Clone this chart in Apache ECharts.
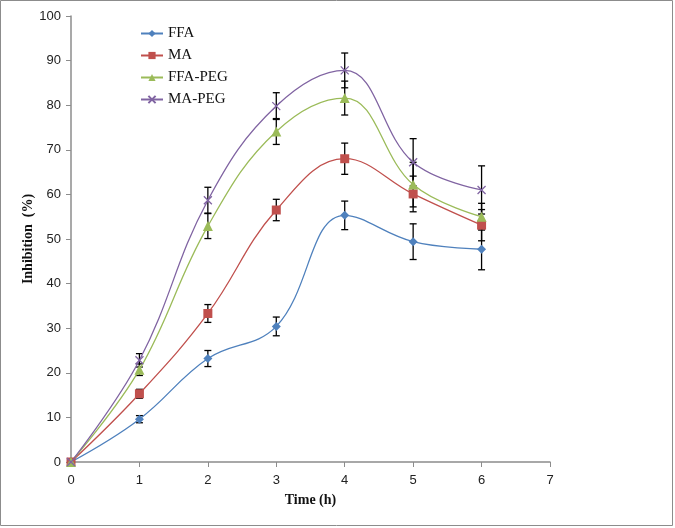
<!DOCTYPE html>
<html>
<head>
<meta charset="utf-8">
<script src="https://cdn.jsdelivr.net/npm/echarts@6/dist/echarts.min.js"></script>
<style>
html,body{margin:0;padding:0;background:#fff;}
#chart{width:675px;height:528px;}
</style>
</head>
<body>
<div id="chart"></div>
<script>
var timeH = [0, 1, 2, 3, 4, 5, 6];
var xTicks = [0, 1, 2, 3, 4, 5, 6, 7];
var seriesNames = ['FFA', 'MA', 'FFA-PEG', 'MA-PEG'];
var ffa = [0, 9.6, 23.2, 30.4, 55.3, 49.4, 47.7];
var ma = [0, 15.3, 33.3, 56.5, 68.0, 60.1, 53.1];
var ffaPeg = [0, 20.7, 52.9, 74.1, 81.6, 62.2, 55.0];
var maPeg = [0, 22.8, 58.7, 79.8, 87.8, 67.2, 61.0];
var ffaErr = [0, 0.8, 1.8, 2.1, 3.2, 4.0, 4.6];
var maErr = [0, 1.0, 2.0, 2.4, 3.5, 4.0, 3.5];
var ffaPegErr = [0, 1.3, 2.8, 2.9, 3.8, 5.0, 3.0];
var maPegErr = [0, 1.5, 2.9, 3.0, 3.9, 5.3, 5.4];

var colors = ['#4F81BD', '#C0504D', '#9BBB59', '#8064A2'];
var values = [ffa, ma, ffaPeg, maPeg];
var errs = [ffaErr, maErr, ffaPegErr, maPegErr];
var symbols = ['diamond', 'rect', 'triangle', 'path://M0,0L10,10M10,0L0,10'];
var symSizes = [9, 9, 10, 8];

var chart = echarts.init(document.getElementById('chart'));
var series = [];
values.forEach(function (vals, si) {
  var d = vals.map(function (v, i) { return [timeH[i], v - errs[si][i], v + errs[si][i]]; })
              .filter(function (p) { return p[2] - p[1] > 0; });
  series.push({
    type: 'custom',
    silent: true,
    z: 1,
    data: d,
    renderItem: function (params, api) {
      var x = api.value(0);
      var lo = api.coord([x, api.value(1)]);
      var hi = api.coord([x, api.value(2)]);
      var hw = 3.5;
      var st = { stroke: '#000', lineWidth: 1.3 };
      return {
        type: 'group',
        children: [
          { type: 'line', shape: { x1: lo[0], y1: lo[1], x2: hi[0], y2: hi[1] }, style: st },
          { type: 'line', shape: { x1: lo[0] - hw, y1: lo[1], x2: lo[0] + hw, y2: lo[1] }, style: st },
          { type: 'line', shape: { x1: hi[0] - hw, y1: hi[1], x2: hi[0] + hw, y2: hi[1] }, style: st }
        ]
      };
    }
  });
});
values.forEach(function (vals, si) {
  series.push({
    name: seriesNames[si],
    type: 'line',
    z: 3,
    smooth: 0.4,
    data: vals.map(function (v, i) { return [timeH[i], v]; }),
    symbol: symbols[si],
    symbolSize: symSizes[si],
    showSymbol: true,
    lineStyle: { color: colors[si], width: 1.3 },
    itemStyle: { color: si === 3 ? 'rgba(0,0,0,0)' : colors[si], borderColor: colors[si], borderWidth: si === 3 ? 1.3 : 0 },
    emphasis: { disabled: true }
  });
});

chart.setOption({
  animation: false,
  backgroundColor: '#fff',
  graphic: [{
    type: 'rect', shape: { x: 0.5, y: 0.5, width: 672, height: 525 },
    style: { fill: 'none', stroke: '#8c8c8c', lineWidth: 1 }, silent: true
  }],
  legend: {
    orient: 'vertical',
    left: 135,
    top: 21,
    itemGap: 7,
    itemWidth: 22,
    itemHeight: 9,
    data: seriesNames,
    textStyle: { fontFamily: 'Liberation Serif', fontSize: 15, color: '#111' }
  },
  grid: { left: 71, top: 16, right: 125, bottom: 66, containLabel: false, outerBoundsMode: 'none' },
  xAxis: {
    type: 'value',
    min: 0, max: 7, interval: 1,
    name: 'Time (h)',
    nameLocation: 'middle',
    nameGap: 31,
    nameTextStyle: { fontFamily: 'Liberation Serif', fontWeight: 'bold', fontSize: 14, color: '#111' },
    axisLine: { lineStyle: { color: '#8c8c8c', width: 1.5 } },
    axisTick: { show: true, length: 5, lineStyle: { color: '#8c8c8c' } },
    axisLabel: { fontFamily: 'Liberation Sans', fontSize: 13, color: '#222', margin: 12 },
    splitLine: { show: false }
  },
  yAxis: {
    type: 'value',
    min: 0, max: 100, interval: 10,
    name: 'Inhibition  (%)',
    nameLocation: 'middle',
    nameGap: 43,
    nameMoveOverlap: false,
    nameTextStyle: { fontFamily: 'Liberation Serif', fontWeight: 'bold', fontSize: 14, color: '#111', verticalAlign: 'middle' },
    axisLine: { show: true, lineStyle: { color: '#8c8c8c', width: 1.5 } },
    axisTick: { show: true, length: 5, lineStyle: { color: '#8c8c8c' } },
    axisLabel: { fontFamily: 'Liberation Sans', fontSize: 13, color: '#222', margin: 10 },
    splitLine: { show: false }
  },
  series: series
});
</script>
</body>
</html>
